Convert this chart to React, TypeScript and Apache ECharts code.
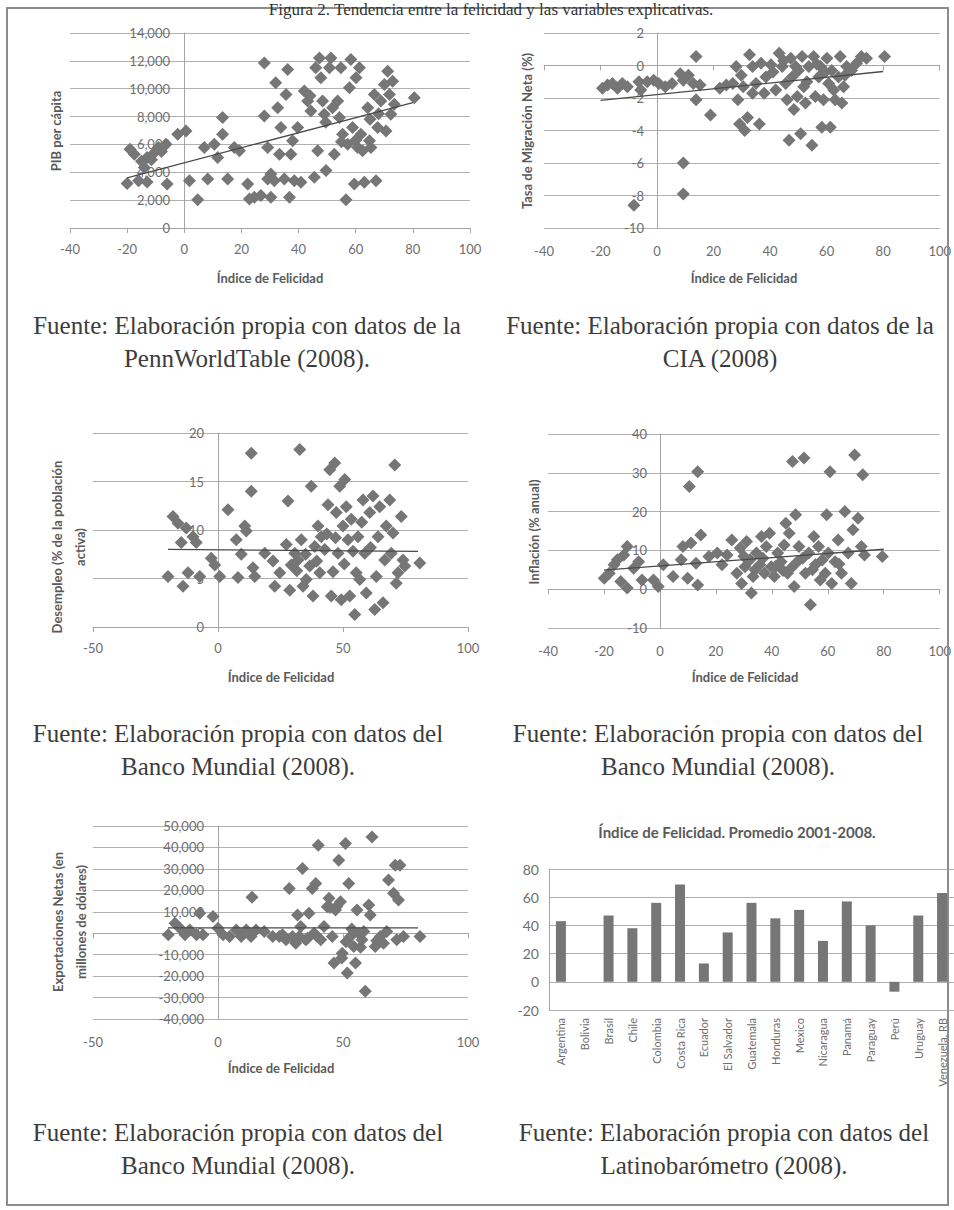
import React, { useEffect, useRef } from "react";
import * as echarts from "echarts";

// ---------- DATA ----------
const pibPoints: number[][] = [
  [-20, 3200], [-19, 5660], [-17.5, 5300], [-15, 4800], [-13, 5070], [-14, 4350], [-10.5, 5400], [-9, 5780],
  [-6.4, 6020], [-16, 3400], [-13, 3300], [-6, 3160], [-2.3, 6730], [0.6, 6970], [1.8, 3400], [4.7, 2020],
  [8.2, 3520], [7, 5780], [10.5, 6020], [11.7, 5070], [13.4, 6730], [13.4, 7930], [15.2, 3520], [17.5, 5780],
  [19.3, 5550], [22.2, 3160], [22.8, 2090], [24.5, 2210], [26.8, 2330], [28, 11850], [28, 8040], [29.2, 3520],
  [29.2, 5780], [30.3, 3880], [30.3, 2210], [31.5, 3400], [32, 10420], [32.7, 8640], [33.3, 5300], [33.8, 7210],
  [35, 3520], [35.6, 9590], [36.2, 11380], [36.8, 2210], [37.3, 5300], [37.9, 6260], [38.5, 3400], [39.7, 7210],
  [40.8, 3280], [42, 9830], [43.2, 9120], [44.3, 8400], [45.5, 3640], [46, 11500], [46.7, 5550], [47.3, 12210],
  [47.8, 10780], [48.4, 9120], [49, 8160], [49.6, 4120], [50.8, 11500], [51.3, 12210], [51.9, 8640], [52.5, 5300],
  [53.7, 9120], [54.3, 7930], [54.8, 11500], [55.4, 6730], [56.6, 2020], [57.2, 6020], [57.8, 10070], [58.3, 12090],
  [58.9, 7210], [59.5, 3160], [60.1, 10780], [60.7, 5780], [61.3, 11500], [61.8, 6730], [62.4, 5550], [63, 3280],
  [64.2, 8640], [64.8, 6260], [65.3, 5780], [66.5, 9590], [67.1, 3400], [67.7, 7210], [68.8, 9120], [70, 10300],
  [70.6, 6970], [71.2, 11260], [71.8, 9590], [72.3, 8160], [72.9, 10540], [73.5, 8880], [80.5, 9350],
  [-11.5, 4900], [-8, 5500], [44, 9500], [49.5, 7600], [55, 6200], [60, 6300], [65, 7800], [68, 8200],
];
const pibTrend: number[][] = [[-20, 3600], [80, 9000]];

const migPoints: number[][] = [
  [-8.2, -8.6], [-19.3, -1.4], [-17.5, -1.2], [-15.8, -1.1], [-14, -1.4], [-12.3, -1.1], [-10.5, -1.3], [-6.4, -1.0],
  [-5.8, -1.5], [-3.5, -1.0], [-1.2, -0.9], [0.6, -1.1], [2.9, -1.3], [5.3, -1.1], [8.2, -0.5], [9.3, -0.9],
  [11.1, -0.6], [12.8, -1.1], [13.8, 0.55], [13.8, -2.1], [15.2, -1.2], [9.3, -6.0], [9.3, -7.9], [18.9, -3.05],
  [22.2, -1.4], [24.5, -1.2], [26.8, -1.1], [28, -0.06], [28.6, -2.1], [29.2, -3.6], [29.8, -0.6], [31, -4.0],
  [32, -3.2], [32.7, 0.66], [33.8, -1.7], [33.8, -0.06], [35, -1.1], [36.2, -3.6], [36.8, 0.14], [37.9, -1.7],
  [38.5, -0.7], [40.3, 0.04], [42, -1.5], [43.2, 0.76], [44.3, -0.06], [45.5, -1.1], [46, -2.1], [46.7, -4.6],
  [47.3, 0.45], [47.8, -0.7], [48.4, -2.7], [49, -0.06], [49.6, -1.9], [50.8, -4.2], [51.3, 0.55], [51.9, -1.3],
  [52.5, -2.3], [53.7, -0.06], [54.8, -4.9], [55.4, 0.55], [56, -1.9], [57.2, -0.7], [57.8, -0.06], [58.3, -3.8],
  [58.9, -2.1], [60.1, 0.45], [60.7, -1.1], [61.3, -3.8], [61.8, -0.3], [63, -2.1], [64.2, -0.7], [64.8, 0.55],
  [65.4, -2.3], [66, -1.3], [67.1, -0.06], [68.8, -0.3], [70.6, 0.14], [72.3, 0.55], [74.1, 0.45], [80.5, 0.55],
  [30.5, -1.3], [41, -0.4], [44.8, 0.3], [50, -0.3], [53, -1.0], [56.5, 0.1], [59.5, -0.4], [62.5, -1.5], [66.5, -0.6],
];
const migTrend: number[][] = [[-20, -2.15], [80, -0.37]];

const desPoints: number[][] = [
  [-20, 5.2], [-18, 11.4], [-16, 10.7], [-14.7, 8.7], [-14, 4.2], [-12.7, 10.2], [-12, 5.6], [-10, 9.3],
  [-8.7, 8.7], [-7.3, 5.2], [-2.7, 7.1], [-1.3, 6.4], [0.7, 5.2], [4, 12.1], [7.3, 9.0], [8, 5.1],
  [9.3, 7.5], [10.7, 10.4], [11.3, 9.9], [13.3, 17.9], [13.3, 14.0], [14, 6.1], [14.7, 5.2], [18.7, 7.6],
  [22, 6.8], [22.7, 4.2], [24.7, 5.6], [27.3, 8.5], [28, 13.0], [28.7, 3.8], [29.3, 6.4], [30.7, 7.6],
  [32, 6.9], [32.7, 18.3], [33.3, 9.0], [34, 4.2], [35.3, 4.9], [36.7, 6.3], [37.3, 14.5], [38, 3.2],
  [38.7, 8.3], [40, 10.4], [40.7, 5.6], [41.3, 9.3], [42.7, 8.0], [44, 12.6], [44.7, 16.2], [45.3, 3.2],
  [46, 5.7], [46.7, 16.9], [47.3, 11.8], [48, 7.6], [48.7, 14.5], [49.3, 2.8], [50, 10.4], [50.7, 15.2],
  [51.3, 12.4], [52, 9.0], [52.7, 3.2], [53.3, 11.1], [54.7, 1.3], [55.3, 5.6], [56, 9.3], [56.7, 4.9],
  [58, 13.1], [58.7, 7.6], [59.3, 3.5], [60.7, 11.8], [62, 13.5], [62.7, 1.8], [63.3, 5.2], [64, 9.3],
  [64.7, 12.4], [66, 2.5], [66.7, 6.9], [67.3, 10.4], [68.7, 13.1], [69.3, 7.6], [70, 9.7], [70.7, 16.7],
  [71.3, 4.5], [72, 5.6], [73.3, 11.4], [74, 6.9], [74.7, 6.3], [80.7, 6.6],
  [31.5, 5.8], [35, 7.5], [39.5, 6.8], [43.5, 9.6], [47, 9.2], [50.5, 6.5], [54, 7.8], [57.5, 10.8], [61, 8.2],
];
const desTrend: number[][] = [[-20, 8.0], [80, 7.8]];

const infPoints: number[][] = [
  [-19.9, 2.8], [-18.1, 4.1], [-16.4, 6.3], [-15.2, 7.6], [-14, 2.0], [-12.9, 8.8], [-11.7, 11.0], [-11.7, 0.3],
  [-9.4, 5.4], [-7.6, 7.1], [-6.4, 2.4], [-2.3, 2.4], [-0.6, 0.7], [1.2, 6.3], [4.7, 3.3], [7.6, 7.6],
  [8.2, 11.0], [10.5, 26.5], [9.9, 2.8], [11.1, 11.9], [12.9, 6.7], [13.5, 30.3], [13.5, 1.1], [14.6, 14.0],
  [17.5, 8.4], [20.5, 9.3], [22.2, 6.3], [24, 8.8], [25.7, 12.7], [27.5, 4.1], [28.7, 10.6], [29.2, 1.5],
  [30.4, 5.8], [31, 12.3], [32.2, 7.6], [32.7, -1.0], [33.3, 3.3], [34.5, 9.3], [35.7, 6.3], [36.3, 13.6],
  [37.4, 4.1], [38, 11.0], [39.2, 14.4], [39.8, 5.8], [40.9, 3.3], [42.1, 9.3], [43.3, 7.1], [44.4, 11.4],
  [45, 17.0], [45.6, 4.1], [46.2, 14.4], [47.4, 32.9], [48, 0.7], [48.5, 19.2], [49.1, 7.1], [49.7, 11.0],
  [51.5, 33.8], [52, 4.1], [53.2, 9.3], [53.8, -4.0], [55, 13.6], [55.6, 6.3], [56.7, 11.0], [57.3, 2.4],
  [59.1, 4.1], [59.6, 19.2], [60.2, 9.3], [60.8, 30.3], [61.4, 1.5], [62.6, 7.1], [63.7, 12.7], [64.9, 4.1],
  [66.1, 20.0], [67.3, 9.3], [68.4, 1.5], [69, 15.3], [69.6, 34.6], [70.8, 18.3], [72, 11.0], [72.5, 29.5],
  [73.1, 8.8], [79.5, 8.4],
  [30, 8.5], [34, 5.0], [36.8, 8.0], [41.5, 6.0], [44, 4.8], [47, 5.5], [51, 8.0], [54.5, 5.0], [58, 7.5], [64, 6.5],
];
const infTrend: number[][] = [[-20, 4.9], [80, 10.3]];

const expPoints: number[][] = [
  [-19.9, -770], [-17.2, 4650], [-15.2, 2320], [-13.2, -770], [-11.3, 1550], [-8.6, -770], [-7.3, 9290], [-6, -770],
  [-2, 7740], [0, 2320], [2, -770], [4.6, -1550], [7.3, 1550], [9.3, -1550], [11.3, 1550], [13.2, -1550],
  [13.6, 16730], [15.2, 1550], [18.5, 770], [21.9, -1550], [24.5, -1550], [25.8, -770], [27.2, -3100], [28.5, 20910],
  [29.8, -1550], [31.1, -4650], [31.8, 8520], [32.5, -1550], [33.1, 3100], [33.8, 30200], [35.1, -3100], [35.8, -2320],
  [36.4, 9290], [37.7, 20910], [38.4, 0], [39.1, 23230], [39.7, -1550], [40.1, 41050], [41.1, -3100], [42.4, 3100],
  [43.7, 12390], [44.4, 16260], [45.7, -1550], [46.4, -13940], [47, 10840], [48.3, 34080], [49, 14720], [49.7, -9290],
  [51, 41820], [51.7, -18590], [52.3, 23230], [53, -1550], [54.3, -6200], [55, -13940], [55.6, 10840], [56.3, 0],
  [57.6, -3100], [58.3, 770], [58.9, -27110], [60.3, 13170], [60.9, 8520], [61.6, 44920], [62.9, -6200], [64.9, -1550],
  [66.2, -4650], [67.5, 770], [68.2, 24780], [70.2, 18590], [70.9, 31750], [71.5, -3100], [72.2, 15490], [72.8, 31750],
  [74.2, -1550], [80.8, -1550],
  [44.8, 12000], [47.5, 12500], [49.5, -11500], [51.2, -4000], [53.5, 2000], [57, -6500], [63.5, -3500],
];
const expTrend: number[][] = [[-20, 2500], [80, 2500]];

const countries: string[] = [
  "Argentina", "Bolivia", "Brasil", "Chile", "Colombia", "Costa Rica", "Ecuador", "El Salvador", "Guatemala",
  "Honduras", "Mexico", "Nicaragua", "Panamá", "Paraguay", "Perú", "Uruguay", "Venezuela, RB",
];
const felicidad: (number | null)[] = [43, null, 47, 38, 56, 69, 13, 35, 56, 45, 51, 29, 57, 40, -7, 47, 63];

// ---------- STYLE ----------
const GRID = "#b0b0b0";
const AXIS = "#a5a5a5";
const LABEL = "#6e6e6e";
const MARK = "#767676";
const FONT = "Lato";

function App() {
  const ref = useRef<HTMLDivElement>(null);

  useEffect(() => {
    const chart = echarts.init(ref.current!, null, { renderer: "svg" });

    const grids = [
      { left: 70, top: 33, width: 400, height: 195 },
      { left: 544, top: 33, width: 400, height: 195 },
      { left: 93, top: 433, width: 375, height: 194 },
      { left: 548, top: 434, width: 396, height: 194 },
      { left: 93, top: 826, width: 375, height: 193 },
      { left: 549, top: 869, width: 405, height: 141 },
    ];

    const lbl = { color: LABEL, fontFamily: FONT, fontSize: 13 };
    const lineX = (gridIndex: number, min: number, max: number, interval: number, labels: boolean) => ({
      type: "value", gridIndex, min, max, interval,
      axisLine: { show: true, onZero: true, lineStyle: { color: AXIS, width: 1 } },
      axisTick: { show: true, length: 5, lineStyle: { color: AXIS } },
      axisLabel: { show: labels, ...lbl, margin: 14 },
      splitLine: { show: false },
    });
    const labelX = (gridIndex: number, min: number, max: number, interval: number) => ({
      type: "value", gridIndex, min, max, interval, position: "bottom",
      axisLine: { show: false, onZero: false },
      axisTick: { show: false },
      axisLabel: { show: true, ...lbl, margin: 16 },
      splitLine: { show: false },
    });
    // y labels sit next to the vertical axis drawn at x = 0
    const valY = (gridIndex: number, min: number, max: number, interval: number, shift: number) => ({
      type: "value", gridIndex, min, max, interval,
      axisLine: { show: true, onZero: true, lineStyle: { color: AXIS, width: 1 } },
      axisTick: { show: false },
      axisLabel: { ...lbl, margin: 14 - shift },
      splitLine: { show: true, lineStyle: { color: GRID, width: 1 } },
    });

    const xAxis: any[] = [
      lineX(0, -40, 100, 20, true), // 0
      lineX(1, -40, 100, 20, false), // 1
      labelX(1, -40, 100, 20), // 2
      lineX(2, -50, 100, 50, true), // 3
      lineX(3, -40, 100, 20, false), // 4
      labelX(3, -40, 100, 20), // 5
      lineX(4, -50, 100, 50, false), // 6
      labelX(4, -50, 100, 50), // 7
      {
        type: "category", gridIndex: 5, data: countries,
        axisLine: { show: false, onZero: false },
        axisTick: { show: false },
        axisLabel: { interval: 0, rotate: 90, color: LABEL, fontFamily: FONT, fontSize: 11, margin: 8 },
        splitLine: { show: false },
      },
    ];
    const yAxis: any[] = [
      valY(0, 0, 14000, 2000, 114),
      valY(1, -10, 2, 2, 114),
      valY(2, 0, 20, 5, 125),
      valY(3, -10, 40, 10, 113),
      valY(4, -40000, 50000, 10000, 125),
      {
        type: "value", gridIndex: 5, min: -20, max: 80, interval: 20,
        axisLine: { show: true, lineStyle: { color: AXIS } },
        axisTick: { show: false },
        axisLabel: { color: LABEL, fontFamily: FONT, fontSize: 14, margin: 10 },
        splitLine: { show: true, lineStyle: { color: GRID, width: 1 } },
      },
    ];

    const scatter = (data: number[][], xi: number, yi: number) => ({
      type: "scatter", data, xAxisIndex: xi, yAxisIndex: yi,
      symbol: "diamond", symbolSize: 13,
      itemStyle: { color: MARK, opacity: 1 },
      z: 3,
    });
    const trend = (data: number[][], xi: number, yi: number) => ({
      type: "line", data, xAxisIndex: xi, yAxisIndex: yi,
      symbol: "none", lineStyle: { color: "#4a4a4a", width: 1.3 }, z: 5,
    });

    const series: any[] = [
      scatter(pibPoints, 0, 0), trend(pibTrend, 0, 0),
      scatter(migPoints, 1, 1), trend(migTrend, 1, 1),
      scatter(desPoints, 3, 2), trend(desTrend, 3, 2),
      scatter(infPoints, 4, 3), trend(infTrend, 4, 3),
      scatter(expPoints, 6, 4), trend(expTrend, 6, 4),
      {
        type: "bar", data: felicidad, xAxisIndex: 8, yAxisIndex: 5,
        barWidth: 10, itemStyle: { color: "#767676" },
      },
    ];

    const tx = (text: string, x: number, y: number, font: string, fill: string, rot = 0, lineHeight?: number, vAlign = "middle") => ({
      type: "text", x, y, rotation: rot, z: 10,
      style: {
        text, font, fill,
        textAlign: "center", textVerticalAlign: vAlign,
        align: "center", verticalAlign: vAlign,
        lineHeight,
      },
    });
    const titleFont = `bold 13px ${FONT}`;
    const capFont = "25px 'Liberation Serif'";
    const capColor = "#3c3c3c";
    const titleColor = "#5a5a5a";

    const graphic: any[] = [
      { type: "rect", shape: { x: 7, y: 8, width: 941, height: 1197 }, style: { fill: "none", stroke: "#8c8c8c", lineWidth: 2 }, z: 1 },
      tx("Figura 2. Tendencia entre la felicidad y las variables explicativas.", 491, 1, "17px 'Liberation Serif'", "#333", 0, undefined, "top"),
      // axis titles
      tx("Índice de Felicidad", 270, 278, titleFont, titleColor),
      tx("PIB per cápita", 56, 131, titleFont, titleColor, Math.PI / 2),
      tx("Índice de Felicidad", 744, 278, titleFont, titleColor),
      tx("Tasa de Migración Neta (%)", 527, 131, titleFont, titleColor, Math.PI / 2),
      tx("Índice de Felicidad", 281, 677, titleFont, titleColor),
      tx("Desempleo (% de la población\nactiva)", 68, 547, titleFont, titleColor, Math.PI / 2, 23),
      tx("Índice de Felicidad", 745, 677, titleFont, titleColor),
      tx("Inflación (% anual)", 534, 532, titleFont, titleColor, Math.PI / 2),
      tx("Índice de Felicidad", 281, 1068, titleFont, titleColor),
      tx("Exportaciones Netas (en\nmillones de dólares)", 69, 922, titleFont, titleColor, Math.PI / 2, 23),
      tx("Índice de Felicidad. Promedio 2001-2008.", 737, 832, `bold 15px ${FONT}`, titleColor),
      // captions
      tx("Fuente: Elaboración propia con datos de la", 247, 325, capFont, capColor),
      tx("PennWorldTable (2008).", 247, 358, capFont, capColor),
      tx("Fuente: Elaboración propia con datos de la", 720, 325, capFont, capColor),
      tx("CIA (2008)", 720, 358, capFont, capColor),
      tx("Fuente: Elaboración propia con datos del", 238, 733, capFont, capColor),
      tx("Banco Mundial (2008).", 238, 766, capFont, capColor),
      tx("Fuente: Elaboración propia con datos del", 718, 733, capFont, capColor),
      tx("Banco Mundial (2008).", 718, 766, capFont, capColor),
      tx("Fuente: Elaboración propia con datos del", 238, 1132, capFont, capColor),
      tx("Banco Mundial (2008).", 238, 1165, capFont, capColor),
      tx("Fuente: Elaboración propia con datos del", 724, 1132, capFont, capColor),
      tx("Latinobarómetro (2008).", 724, 1165, capFont, capColor),
    ];

    chart.setOption({
      animation: false,
      backgroundColor: "#ffffff",
      grid: grids,
      xAxis,
      yAxis,
      series,
      graphic,
    });

    return () => chart.dispose();
  }, []);

  return (
    <div
      ref={ref}
      style={{ position: "absolute", left: 0, top: 0, width: 954, height: 1210, background: "#fff" }}
    />
  );
}

export default App;
